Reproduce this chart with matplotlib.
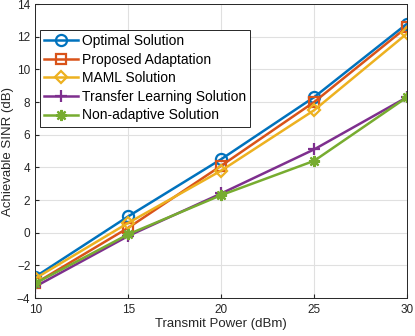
import numpy as np
import matplotlib.pyplot as plt

# Data
power = [10, 15, 20, 25, 30]
optimal = [-2.7, 1.0, 4.5, 8.3, 12.8]
proposed = [-3.1, 0.3, 4.1, 8.0, 12.6]
maml = [-2.8, 0.6, 3.8, 7.5, 12.2]
transfer = [-3.3, -0.2, 2.4, 5.1, 8.3]
nonadaptive = [-3.1, -0.1, 2.3, 4.4, 8.3]

labels = ["Optimal Solution", "Proposed Adaptation", "MAML Solution",
          "Transfer Learning Solution", "Non-adaptive Solution"]
colors = ["#0072BD", "#D95319", "#EDB120", "#7E2F8E", "#77AC30"]
markers = ["o", "s", "D", "+", (8, 2, 0)]  # last one: matlab-style asterisk
sizes = [8, 7, 6.5, 9, 8]

plt.rcParams['font.family'] = ['Liberation Sans', 'DejaVu Sans']

fig = plt.figure(figsize=(4.15, 3.36), dpi=100)
ax = fig.add_axes([0.085, 0.113, 0.896, 0.875])

series = [optimal, proposed, maml, transfer, nonadaptive]
for y, lab, c, m, ms in zip(series, labels, colors, markers, sizes):
    ax.plot(power, y, color=c, marker=m, markersize=ms, linewidth=1.8,
            markerfacecolor='none', markeredgewidth=1.6, label=lab)

ax.set_xlim(10, 30)
ax.set_ylim(-4, 14)
ax.set_xticks(power)
ax.set_yticks(np.arange(-4, 15, 2))
ax.tick_params(direction='in', labelsize=8.5, colors='#262626', length=3)
ax.tick_params(axis='x', pad=4)
ax.grid(True, color='#e0e0e0', linewidth=0.8)
for s in ax.spines.values():
    s.set_color('#262626')
    s.set_linewidth(0.7)
ax.set_xlabel("Transmit Power (dBm)", fontsize=9.5, color='#262626', labelpad=2)
ax.set_ylabel("Achievable SINR (dB)", fontsize=9.5, color='#262626', labelpad=2)

leg = ax.legend(loc='upper left', bbox_to_anchor=(0.013, 0.912), fontsize=10,
                fancybox=False, framealpha=1, edgecolor='#262626',
                handlelength=2.45, borderpad=0.3, labelspacing=0.33,
                handletextpad=0.25, borderaxespad=0)
leg.get_frame().set_linewidth(0.7)

fig.savefig("out.png", dpi=100)
